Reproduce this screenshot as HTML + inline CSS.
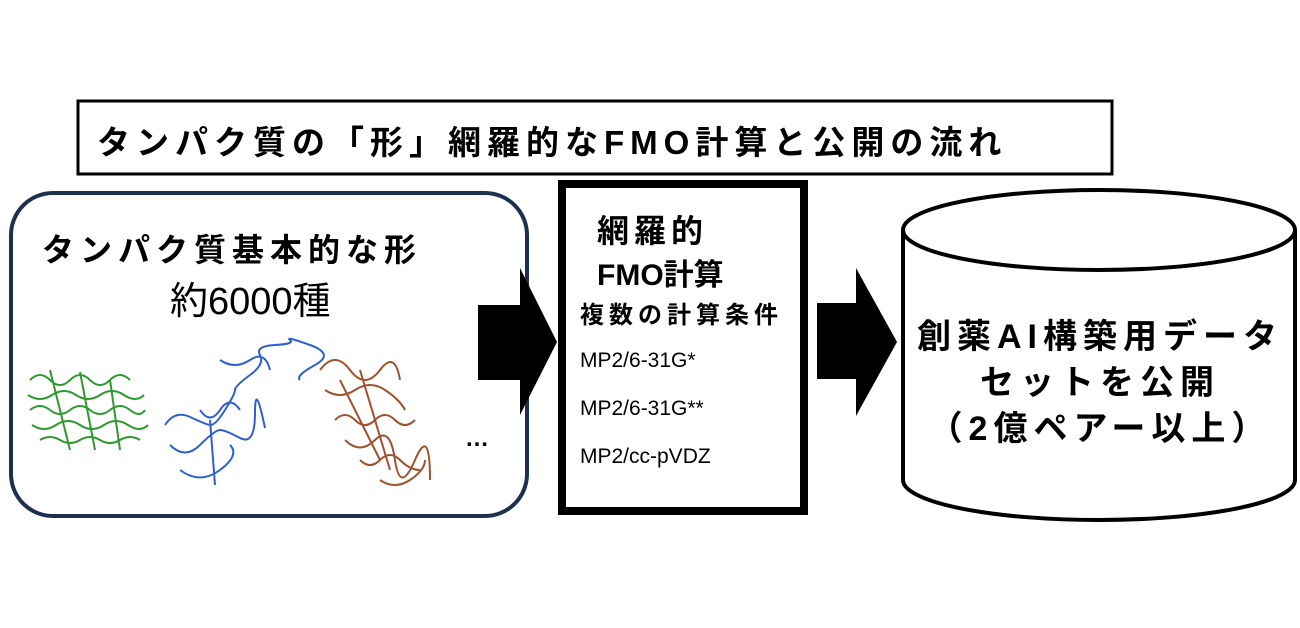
<!DOCTYPE html>
<html><head><meta charset="utf-8"><style>
body{margin:0;width:1300px;height:628px;background:#fff;position:relative;overflow:hidden;font-family:"Liberation Sans","Noto Sans CJK JP",sans-serif;color:#000}
.a{position:absolute;white-space:nowrap}
</style></head><body>
<svg width="1300" height="628" style="position:absolute;left:0;top:0">
<rect x="78" y="101" width="1034" height="73" fill="#fff" stroke="#000" stroke-width="3"/>
<rect x="11" y="193" width="516" height="323" rx="42" fill="#fff" stroke="#1f2f4f" stroke-width="4"/>
<polygon points="478,305 520,305 520,268 557,342 520,415 520,380 478,380" fill="#000"/>
<rect x="562" y="184" width="242" height="327" fill="#fff" stroke="#000" stroke-width="8"/>
<polygon points="817,303 856,303 856,268 897,342 856,416 856,379 817,379" fill="#000"/>
<path d="M903,230 L903,480 A196,40 0 0 0 1295,480 L1295,230" fill="#fff" stroke="#000" stroke-width="4"/>
<ellipse cx="1099" cy="230" rx="196" ry="40" fill="#fff" stroke="#000" stroke-width="4"/>
<g fill="none" stroke-width="2">
<path d="M30,380 q10,-10 20,0 t20,0 t20,0 t20,0 t20,0 M28,395 q12,8 24,0 t24,0 t24,0 t24,0 t20,0 M30,410 q10,-8 20,0 t20,0 t20,0 t20,0 t20,0 t15,0 M32,425 q12,8 24,0 t24,0 t24,0 t24,0 t20,0 M40,440 q10,-6 20,0 t20,0 t20,0 t20,0 t20,0 M50,370 l20,80 M80,372 l15,78 M110,380 l10,70" stroke="#2e9a2e"/>
<path d="M165,425 q10,-15 25,-8 t20,8 t15,-15 t10,-20 t15,-15 t10,-20 t15,-10 t15,-5 t20,5 t5,20 t-15,15 M170,445 q15,15 30,0 t20,-15 t20,8 t15,-25 t10,15 M180,470 q20,15 40,0 t10,-25 M210,420 l5,65 M200,410 q10,15 20,0 t20,0 M220,360 q15,10 30,0 t20,10" stroke="#2f5fcf"/>
<path d="M320,370 q15,-20 30,0 t30,0 t20,10 M325,390 q15,10 30,0 t30,0 t20,20 M335,420 q10,-10 20,0 t20,0 t20,0 t20,0 M345,440 q15,15 30,0 t20,20 t20,0 t15,20 M360,460 q10,10 20,0 t20,0 t20,10 M380,480 q15,10 30,0 t15,-20 M340,380 l40,80 M360,370 l30,100" stroke="#a0522d"/>
</g>
</svg>
<div class="a" style="left:97px;top:116px;font-size:33px;letter-spacing:6px;font-weight:bold">タンパク質の「形」網羅的なFMO計算と公開の流れ</div>
<div class="a" style="left:42px;top:225px;font-size:32px;letter-spacing:6px;font-weight:bold">タンパク質基本的な形</div>
<div class="a" style="left:170px;top:270px;font-size:38px">約6000種</div>
<div class="a" style="left:465px;top:425px;font-size:24px;font-weight:bold">…</div>
<div class="a" style="left:597px;top:206px;font-size:32px;letter-spacing:5px;font-weight:bold">網羅的</div>
<div class="a" style="left:597px;top:250px;font-size:30px;font-weight:bold">FMO計算</div>
<div class="a" style="left:580px;top:295px;font-size:24px;letter-spacing:5px;font-weight:bold">複数の計算条件</div>
<div class="a" style="left:580px;top:349px;font-size:21px">MP2/6-31G*</div>
<div class="a" style="left:580px;top:397px;font-size:21px">MP2/6-31G**</div>
<div class="a" style="left:580px;top:445px;font-size:21px">MP2/cc-pVDZ</div>
<div class="a" style="left:900px;width:400px;text-align:center;top:314px;font-size:34px;letter-spacing:6px;font-weight:bold;line-height:46px;white-space:normal">創薬AI構築用データ<br>セットを公開<br>（2億ペアー以上）</div>
</body></html>
